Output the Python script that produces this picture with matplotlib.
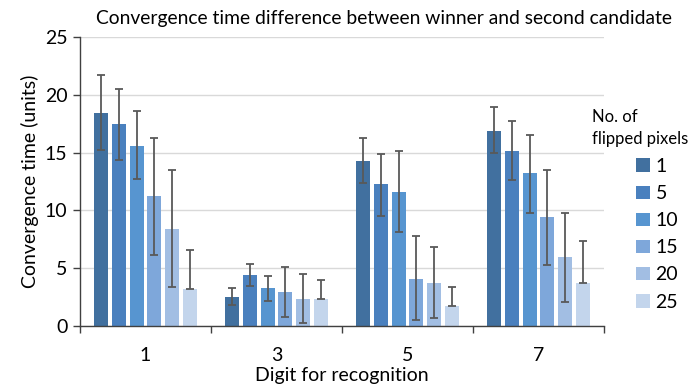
import numpy as np
import matplotlib
matplotlib.use("Agg")
import matplotlib.pyplot as plt

plt.rcParams['font.family'] = ['Lato', 'DejaVu Sans']

digits = ['1', '3', '5', '7']
flipped = ['1', '5', '10', '15', '20', '25']

# mean convergence time per flipped-pixel count, one row per series
means = [
    [18.4, 2.5, 14.3, 16.9],
    [17.5, 4.4, 12.3, 15.1],
    [15.6, 3.3, 11.6, 13.2],
    [11.2, 2.9, 4.1, 9.4],
    [8.4, 2.3, 3.7, 6.0],
    [3.2, 2.3, 1.7, 3.75],
]
# upper / lower error bar extents
err_hi = [
    [3.3, 0.8, 2.0, 2.0],
    [3.0, 1.0, 2.6, 2.6],
    [3.0, 1.05, 3.5, 3.3],
    [5.1, 2.2, 3.7, 4.1],
    [5.1, 2.2, 3.1, 3.8],
    [3.4, 1.7, 1.7, 3.6],
]
err_lo = [
    [3.2, 0.7, 1.9, 1.9],
    [3.1, 0.9, 2.8, 2.5],
    [2.9, 1.1, 3.5, 3.4],
    [5.1, 2.1, 3.6, 4.1],
    [5.0, 2.0, 3.0, 3.9],
    [0, 0, 0, 0],
]

colors = ['#41709F', '#4A80BE', '#5795D0', '#7EA7DA', '#A2BEE3', '#C3D5EC']

fig = plt.figure(figsize=(6.89, 3.89), dpi=100)
ax = fig.add_axes([0.116, 0.162, 0.7605, 0.743])

x = np.arange(len(digits))
pitch = 0.135
width = 0.107
for i, lab in enumerate(flipped):
    xs = x + (i - 2.5) * pitch
    ax.bar(xs, means[i], width, color=colors[i], label=lab, zorder=2)
    ax.errorbar(xs, means[i], yerr=[err_lo[i], err_hi[i]], fmt='none',
                ecolor='#595959', elinewidth=1.3, capsize=3.2, capthick=1.3, zorder=3)

ax.set_xlim(-0.5, len(digits) - 0.5)
ax.set_ylim(0, 25)
ax.set_yticks(range(0, 26, 5))
ax.set_xticks(x)
ax.set_xticklabels(digits)
ax.set_xticks(np.arange(-0.5, len(digits), 1), minor=True)
ax.tick_params(axis='x', which='major', length=0, pad=15, labelsize=14)
ax.tick_params(axis='x', which='minor', length=5, width=1, color='#404040')
ax.tick_params(axis='y', length=5, width=1, color='#404040', labelsize=14, pad=4)
ax.grid(axis='y', color='#D9D9D9', linewidth=1, zorder=0)
for s in ['top', 'right']:
    ax.spines[s].set_visible(False)
for s in ['left', 'bottom']:
    ax.spines[s].set_color('#404040')
    ax.spines[s].set_linewidth(1)

ax.set_title('Convergence time difference between winner and second candidate',
             fontsize=13.9, pad=9, x=0.58)
ax.set_xlabel('Digit for recognition', fontsize=14, labelpad=2)
ax.set_ylabel('Convergence time (units)', fontsize=14, labelpad=4)

fig.text(592 / 689, 1 - 128 / 389, 'No. of\nflipped pixels', fontsize=12,
         ha='left', va='center', linespacing=1.4)
leg = fig.legend(loc='upper left', bbox_to_anchor=(636 / 689, 1 - 158 / 389),
                 frameon=False, fontsize=14, handlelength=0.7, handleheight=0.7,
                 handletextpad=0.3, labelspacing=0.52, borderpad=0, borderaxespad=0)

fig.savefig('out.png', dpi=100)
